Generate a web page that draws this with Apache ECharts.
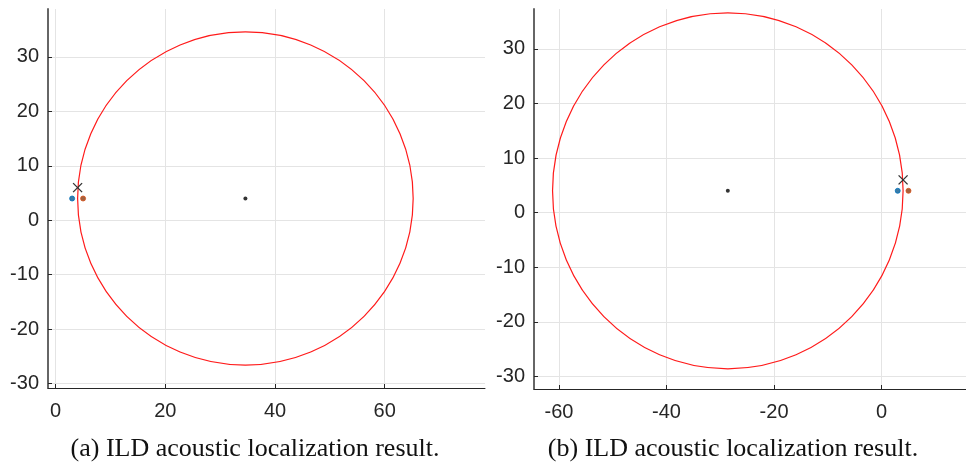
<!DOCTYPE html>
<html>
<head>
<meta charset="utf-8">
<script src="https://cdn.jsdelivr.net/npm/echarts@6/dist/echarts.min.js"></script>
<style>
html,body{margin:0;padding:0;background:#fff;}
#chart{width:966px;height:466px;}
</style>
</head>
<body>
<div id="chart"></div>
<script>
// Tick labels
const xTicksA = [0, 20, 40, 60];
const xTicksB = [-60, -40, -20, 0];
const yTicks = [-30, -20, -10, 0, 10, 20, 30];

// Panel (a)
const micBlueA = [[3, 4]];
const micOrangeA = [[5, 4]];
const estimateA = [[4, 6]];
const centerA = [[34.6, 4]];
const circleA = [[34.6, 4, 30.6]]; // cx, cy, radius

// Panel (b)
const micBlueB = [[3, 4]];
const micOrangeB = [[5, 4]];
const estimateB = [[4, 6]];
const centerB = [[-28.6, 4]];
const circleB = [[-28.6, 4, 32.6]];

const captions = ['(a) ILD acoustic localization result.', '(b) ILD acoustic localization result.'];

const TXT = '#262626';
const GRID = '#e4e4e4';
const FONT = '"Liberation Sans", Arial, sans-serif';

function makeX(idx, min, max, ticks) {
  return {
    type: 'value', gridIndex: idx, min: min, max: max,
    axisLine: {show: true, onZero: false, lineStyle: {color: TXT, width: 1}},
    axisTick: {show: true, inside: true, length: 4, customValues: ticks, lineStyle: {color: TXT}},
    axisLabel: {customValues: ticks, fontSize: 20, color: TXT, fontFamily: FONT, margin: 13},
    splitLine: {show: true, lineStyle: {color: GRID, width: 1}}
  };
}
function makeY(idx, min, max, ticks) {
  return {
    type: 'value', gridIndex: idx, min: min, max: max,
    axisLine: {show: true, onZero: false, lineStyle: {color: '#666', width: 2}},
    axisTick: {show: true, inside: true, length: 4, customValues: ticks, lineStyle: {color: TXT}},
    axisLabel: {customValues: ticks, fontSize: 20, color: TXT, fontFamily: FONT, margin: 9},
    splitLine: {show: true, lineStyle: {color: GRID, width: 1}}
  };
}

function renderCircle(params, api) {
  const c = api.coord([api.value(0), api.value(1)]);
  const s = api.size([api.value(2), api.value(2)]);
  return {
    type: 'ellipse',
    shape: {cx: c[0], cy: c[1], rx: s[0], ry: s[1]},
    style: {fill: 'none', stroke: '#ff1a1a', lineWidth: 1.2}
  };
}
function renderCross(params, api) {
  const c = api.coord([api.value(0), api.value(1)]);
  const h = 4.5;
  return {
    type: 'group',
    children: [
      {type: 'line', shape: {x1: c[0] - h, y1: c[1] - h, x2: c[0] + h, y2: c[1] + h}, style: {stroke: '#333', lineWidth: 1.3}},
      {type: 'line', shape: {x1: c[0] - h, y1: c[1] + h, x2: c[0] + h, y2: c[1] - h}, style: {stroke: '#333', lineWidth: 1.3}}
    ]
  };
}

function panelSeries(idx, circle, center, blue, orange, est) {
  return [
    {type: 'custom', xAxisIndex: idx, yAxisIndex: idx, data: circle, renderItem: renderCircle, silent: true, clip: false},
    {type: 'scatter', xAxisIndex: idx, yAxisIndex: idx, data: center, symbolSize: 4, itemStyle: {color: '#000'}, silent: true},
    {type: 'scatter', xAxisIndex: idx, yAxisIndex: idx, data: blue, symbolSize: 5, itemStyle: {color: '#0a5a90', borderColor: '#0072BD', borderWidth: 1}, silent: true},
    {type: 'scatter', xAxisIndex: idx, yAxisIndex: idx, data: orange, symbolSize: 5, itemStyle: {color: '#8a3a10', borderColor: '#D95319', borderWidth: 1}, silent: true},
    {type: 'custom', xAxisIndex: idx, yAxisIndex: idx, data: est, renderItem: renderCross, silent: true, clip: false}
  ];
}

const chart = echarts.init(document.getElementById('chart'), null, {renderer: 'canvas'});
chart.setOption({
  animation: false,
  backgroundColor: '#fff',
  grid: [
    {left: 48, top: 9, width: 437, height: 379},
    {left: 534, top: 9, width: 432, height: 380}
  ],
  xAxis: [makeX(0, -1.4, 78.3, xTicksA), makeX(1, -64.65, 15.7, xTicksB)],
  yAxis: [makeY(0, -30.8, 38.8, yTicks), makeY(1, -32.3, 37.3, yTicks)],
  series: [].concat(
    panelSeries(0, circleA, centerA, micBlueA, micOrangeA, estimateA),
    panelSeries(1, circleB, centerB, micBlueB, micOrangeB, estimateB)
  ),
  graphic: [
    {type: 'text', x: 255, y: 449, style: {text: captions[0], align: 'center', verticalAlign: 'middle', font: '26px "Liberation Serif", "Times New Roman", serif', fill: '#111'}},
    {type: 'text', x: 733, y: 449, style: {text: captions[1], align: 'center', verticalAlign: 'middle', font: '26px "Liberation Serif", "Times New Roman", serif', fill: '#111'}}
  ]
});
</script>
</body>
</html>
